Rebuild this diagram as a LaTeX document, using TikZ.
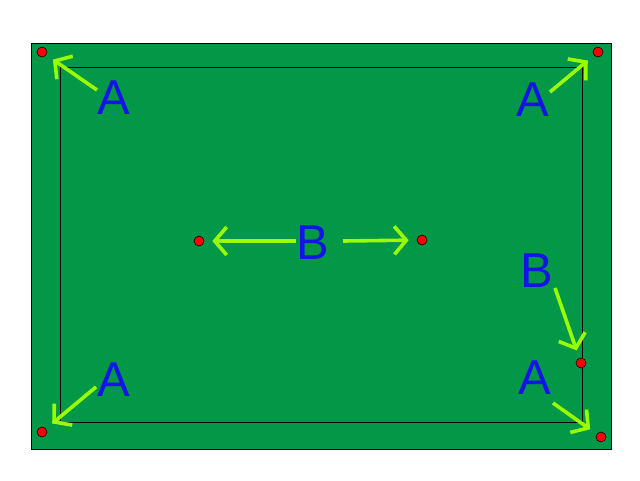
\documentclass[tikz,border=0pt]{standalone}
\usepackage{fontspec}
\setmainfont{Liberation Sans}
\usetikzlibrary{arrows.meta}
\definecolor{clfelt}{RGB}{3,152,72}
\definecolor{cllime}{RGB}{153,255,0}
\definecolor{clblue}{RGB}{20,20,230}
\tikzset{>={Straight Barb[length=12pt, width=28pt]}}
\tikzset{ball/.style={circle, draw=black, fill=red, inner sep=0pt, minimum size=10pt, line width=.6pt},
    lbl/.style={text=clblue, font=\fontsize{49}{49}\selectfont, inner sep=0pt},
    pt/.style={->, draw=cllime, line width=3.6pt, shorten >=8pt}}

\begin{document}
\begin{tikzpicture}[x=1pt, y=-1pt]
    \useasboundingbox(0, 0) rectangle (640, 480);
    \draw[fill=clfelt](31, 43) rectangle (611, 449);
    \draw[line width=.6pt](60, 67) rectangle (582, 422);
    \node[ball](p1) at (42, 52){};
    \node[ball](p2) at (598, 52){};
    \node[ball](p3) at (42, 432){};
    \node[ball](p4) at (601, 437){};
    \node[ball](p5) at (199, 241){};
    \node[ball](p6) at (422, 240){};
    \node[ball](p7) at (581, 363){};
    \node[lbl](a1) at (114, 98){A};
    \node[lbl](a2) at (533, 100){A};
    \node[lbl](a3) at (114, 380){A};
    \node[lbl](a4) at (535, 378){A};
    \node[lbl](b1) at (313, 243){B};
    \node[lbl](b2) at (537, 271){B};
    \coordinate(t1) at (97, 90);
    \coordinate(t2) at (550, 92);
    \coordinate(t3) at (96, 387);
    \coordinate(t4) at (553, 403);
    \coordinate(t5) at (296, 241);
    \coordinate(t6) at (343, 241);
    \coordinate(t7) at (555, 288);
    \draw[pt](t1)--(p1);
    \draw[pt](t2)--(p2);
    \draw[pt](t3)--(p3);
    \draw[pt](t4)--(p4);
    \draw[pt](t5)--(p5);
    \draw[pt](t6)--(p6);
    \draw[pt](t7)--(p7);
\end{tikzpicture}
\end{document}
